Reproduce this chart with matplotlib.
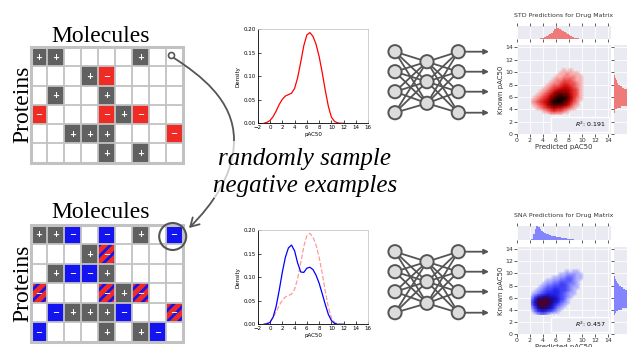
import numpy as np
import matplotlib.pyplot as plt
from matplotlib.patches import Rectangle, Circle, FancyArrowPatch
from matplotlib.path import Path
from matplotlib.colors import LinearSegmentedColormap
from matplotlib.lines import Line2D

W, H = 627, 347

# protein x molecule matrices: '+' active, '-' known inactive,
# 'n' sampled negative, 'x' sampled negative on a known inactive
top_grid = [
    "++....+..",
    "...+-....",
    ".+..+....",
    "-...-+-..",
    "..+++...-",
    "....+.+..",
]
bottom_grid = [
    "++n.n.+.n",
    "...+x....",
    ".+nn+....",
    "x...x+x..",
    ".n+++n..x",
    "n...+.+n.",
]

# pAC50 density curves
pac50 = [-1.0, -0.5, 0.0, 0.5, 1.0, 1.5, 2.0, 2.5, 3.0, 3.5, 4.0, 4.5, 5.0,
         5.5, 6.0, 6.5, 7.0, 7.5, 8.0, 8.5, 9.0, 9.5, 10.0, 10.5, 11.0, 11.5, 12.0]
density_known = [0.000, 0.002, 0.006, 0.014, 0.026, 0.040, 0.051, 0.058, 0.061,
                 0.064, 0.074, 0.097, 0.130, 0.165, 0.188, 0.193, 0.185, 0.168,
                 0.142, 0.108, 0.070, 0.036, 0.013, 0.004, 0.001, 0.000, 0.000]
density_sampled = [0.000, 0.001, 0.004, 0.015, 0.038, 0.072, 0.110, 0.142, 0.162,
                   0.168, 0.156, 0.130, 0.111, 0.110, 0.119, 0.121, 0.116, 0.104,
                   0.087, 0.065, 0.042, 0.021, 0.008, 0.002, 0.000, 0.000, 0.000]

# point density of predicted (cols, x from 2 by 0.5) vs known (rows, y from 11 down to 3)
std_cloud = [
    "000000000000000000",
    "000000000010100000",
    "000000000112111000",
    "000000001122221100",
    "000000012233321100",
    "000000122344332100",
    "000001233455432100",
    "000012345666543100",
    "000123467777543100",
    "001234678988643100",
    "012345789998642100",
    "123456899987532000",
    "012346788876421000",
    "001234565543210000",
    "000012343321000000",
    "000000111100000000",
]
sna_cloud = [
    "000000000000000000",
    "000000000001011000",
    "000000000112221100",
    "000000011223321100",
    "000001122333321000",
    "000012233443221000",
    "000123344443211000",
    "001234455443210000",
    "012345555432110000",
    "135677665432100000",
    "258999876431000000",
    "369999865321000000",
    "258998753210000000",
    "136887642100000000",
    "024554321000000000",
    "001221000000000000",
]
cloud_x0, cloud_y0, cloud_step = 2.0, 3.0, 0.5

# marginal histograms (bin width 0.25)
hist_width = 0.25
std_pred_start = 2.5
std_pred_hist = [1, 1, 2, 3, 5, 7, 10, 14, 20, 27, 35, 45, 58, 75, 95, 88, 80, 70,
                 60, 52, 44, 36, 28, 21, 15, 10, 7, 4, 3, 2, 1, 1]
std_known_start = 3.0
std_known_hist = [1, 2, 3, 5, 10, 20, 35, 50, 70, 85, 100, 95, 85, 70, 55, 45, 35,
                  28, 22, 17, 13, 10, 8, 6, 4, 3, 2, 1]
sna_pred_start = 2.25
sna_pred_hist = [10, 40, 80, 100, 90, 78, 66, 58, 50, 44, 40, 36, 32, 29, 26, 23,
                 21, 19, 17, 15, 13, 11, 9, 7, 5, 4, 2, 1]
sna_known_start = 3.0
sna_known_hist = [1, 3, 6, 12, 22, 35, 50, 65, 80, 92, 100, 96, 85, 72, 60, 48, 38,
                  30, 24, 19, 15, 12, 9, 7, 5, 3, 2, 1]

std_r2 = 0.191
sna_r2 = 0.457

GRAY = '#606060'
RED = '#ee2b24'
BLUE = '#1414f0'
LINE = '#c2c2c2'
INK = '#555555'
DARKBG = '#eaeaf2'

plt.rcParams['font.family'] = ['DejaVu Sans']
plt.rcParams['hatch.linewidth'] = 2.0

fig = plt.figure(figsize=(W / 100, H / 100), dpi=100)


def px_axes(x0, y0, x1, y1, **kw):
    # axes placed by a pixel box measured from the top-left corner
    return fig.add_axes([x0 / W, 1 - y1 / H, (x1 - x0) / W, (y1 - y0) / H], **kw)


def draw_matrix(rows, box):
    ax = px_axes(*box)
    ax.set_xlim(0, 9)
    ax.set_ylim(6, 0)
    ax.axis('off')
    for r, row in enumerate(rows):
        for c, cell in enumerate(row):
            if cell == '.':
                continue
            if cell == '+':
                ax.add_patch(Rectangle((c, r), 1, 1, fc=GRAY, ec='none'))
            elif cell == '-':
                ax.add_patch(Rectangle((c, r), 1, 1, fc=RED, ec='none'))
            elif cell == 'n':
                ax.add_patch(Rectangle((c, r), 1, 1, fc=BLUE, ec='none'))
            elif cell == 'x':
                ax.add_patch(Rectangle((c, r), 1, 1, fc=RED, ec=BLUE, lw=0, hatch='///'))
            sign = '+' if cell == '+' else '\u2212'
            ax.text(c + 0.5, r + 0.52, sign, color='white', ha='center', va='center',
                    fontsize=6, fontweight='bold')
    for i in range(10):
        ax.plot([i, i], [0, 6], color=LINE, lw=1.3, clip_on=False)
    for j in range(7):
        ax.plot([0, 9], [j, j], color=LINE, lw=1.3, clip_on=False)
    ax.add_patch(Rectangle((0, 0), 9, 6, fill=False, ec=LINE, lw=2.2, clip_on=False))


def draw_density(box, curves):
    ax = px_axes(*box)
    for ys, kw in curves:
        ax.plot(pac50, ys, **kw)
    ax.set_xlim(-2, 16)
    ax.set_ylim(0, 0.2)
    ax.set_xticks(range(-2, 17, 2))
    ax.set_yticks([0, 0.05, 0.10, 0.15, 0.20])
    ax.yaxis.set_major_formatter('{x:.2f}')
    ax.tick_params(labelsize=4, length=2, width=0.5, direction='in', pad=1.5)
    for s in ax.spines.values():
        s.set_linewidth(0.6)
    ax.spines['top'].set_color('#c8c8c8')
    ax.spines['right'].set_color('#c8c8c8')
    ax.set_xlabel('pAC50', fontsize=4, labelpad=1)
    ax.set_ylabel('Density', fontsize=4, labelpad=2)


def style_dark(ax):
    ax.set_facecolor(DARKBG)
    for s in ax.spines.values():
        s.set_visible(False)
    ax.grid(True, color='white', lw=0.6)
    ax.set_axisbelow(True)
    ax.tick_params(length=2, width=0.6, color='#444444', labelsize=4.5,
                   labelcolor='#333333', pad=0.8)


def draw_joint(main_box, top_box, right_box, title_y, cloud, cmap,
               pred_start, pred_hist, known_start, known_hist, bar_color, title, r2):
    ax = px_axes(*main_box)
    style_dark(ax)
    levels = np.array([[int(ch) for ch in row] for row in cloud][::-1], float)
    xc = cloud_x0 + cloud_step * (np.arange(levels.shape[1]) + 0.5)
    yc = cloud_y0 + cloud_step * (np.arange(levels.shape[0]) + 0.5)
    ax.pcolormesh(xc, yc, levels, cmap=cmap, vmin=0, vmax=9, shading='gouraud', zorder=2)
    ax.set_xlim(0, 14.4)
    ax.set_ylim(0, 14.4)
    ax.set_xticks(range(0, 15, 2))
    ax.set_yticks(range(0, 15, 2))
    ax.set_xlabel('Predicted pAC50', fontsize=5, color='#333333', labelpad=0.5)
    ax.set_ylabel('Known pAC50', fontsize=5, color='#333333', labelpad=0.5)
    ax.legend([Line2D([], [], ls='none')], [f'$R^2$: {r2:.3f}'], loc='lower right',
              fontsize=4.5, handlelength=2.5, borderpad=0.5, borderaxespad=0.3,
              facecolor=DARKBG, edgecolor='white', framealpha=1, fancybox=False)

    mt = px_axes(*top_box)
    style_dark(mt)
    mt.bar(pred_start + hist_width * np.arange(len(pred_hist)), pred_hist,
           width=hist_width, align='edge', color=bar_color, lw=0, zorder=2)
    mt.set_xlim(0, 14.4)
    mt.set_ylim(0, 100)
    mt.set_xticks(range(0, 15, 2))
    mt.set_yticks([])
    mt.tick_params(axis='x', top=True, labelbottom=False, length=2.5)

    mr = px_axes(*right_box)
    style_dark(mr)
    mr.barh(known_start + hist_width * np.arange(len(known_hist)), known_hist,
            height=hist_width, align='edge', color=bar_color, lw=0, zorder=2)
    mr.set_ylim(0, 14.4)
    mr.set_xlim(0, 110)
    mr.set_yticks(range(0, 15, 2))
    mr.set_xticks([])
    mr.tick_params(axis='y', labelleft=False, length=2.5)

    fig.text(563.5 / W, 1 - title_y / H, title, ha='center', va='center',
             fontsize=4.5, color='#333333')


draw_matrix(top_grid, (30.5, 47, 182.5, 162.5))
draw_matrix(bottom_grid, (30.5, 224.5, 182.5, 341.5))

draw_density((257.7, 29.3, 368.3, 123.3),
             [(density_known, dict(color='red', lw=0.9))])
draw_density((257.7, 230, 368.3, 324.3),
             [(density_known, dict(color='#ff8080', lw=0.9, ls='--', alpha=0.8)),
              (density_sampled, dict(color='blue', lw=0.9))])

# level 0 stays transparent so the background shows through
red_map = LinearSegmentedColormap.from_list(
    'std', [(0, (0.97, 0.7, 0.7, 0)), (0.11, '#f7b0b0'), (0.33, '#ee5050'),
            (0.6, '#cc0000'), (0.85, '#6a0000'), (1, '#150000')])
blue_map = LinearSegmentedColormap.from_list(
    'sna', [(0, (0.72, 0.72, 1, 0)), (0.11, '#b0b0ff'), (0.33, '#5c5cff'),
            (0.6, '#1a1ae6'), (0.85, '#1a0a80'), (1, '#4a0030')])

draw_joint((516.7, 44.9, 610.6, 134.3), (516.7, 26, 610.6, 39), (613.5, 44.9, 655, 134.3),
           16, std_cloud, red_map, std_pred_start, std_pred_hist, std_known_start,
           std_known_hist, '#ef7a7a', 'STD Predictions for Drug Matrix', std_r2)
draw_joint((516.7, 246.6, 610.6, 334.3), (516.7, 226, 610.6, 240), (613.5, 246.6, 655, 334.3),
           216, sna_cloud, blue_map, sna_pred_start, sna_pred_hist, sna_known_start,
           sna_known_hist, '#8484ff', 'SNA Predictions for Drug Matrix', sna_r2)

# schematic layer in pixel coordinates
ov = fig.add_axes([0, 0, 1, 1], zorder=10)
ov.set_xlim(0, W)
ov.set_ylim(H, 0)
ov.axis('off')

serif = 'Liberation Serif'
for base_y, mid_y in [(41.5, 104), (218.3, 283)]:
    ov.text(101, base_y, 'Molecules', ha='center', va='baseline', fontsize=17, family=serif)
    ov.text(28, mid_y, 'Proteins', ha='center', va='baseline', rotation=90,
            rotation_mode='anchor', fontsize=17, family=serif)


def draw_net(dy):
    layers = [(395, [51.7, 71.7, 91.7, 112.7]),
              (427, [61.7, 81.7, 103.3]),
              (458.3, [51.7, 71.7, 91.7, 112.7])]
    for (xa, ya), (xb, yb) in zip(layers[:-1], layers[1:]):
        for y1 in ya:
            for y2 in yb:
                ov.plot([xa, xb], [y1 + dy, y2 + dy], color=INK, lw=1.3, zorder=1)
    for x, ys in layers:
        for y in ys:
            ov.add_patch(Circle((x, y + dy), 6.6, fc='#dcdcdc', ec=INK, lw=1.4, zorder=2))
    for y in layers[-1][1]:
        ov.annotate('', xy=(489, y + dy), xytext=(465, y + dy),
                    arrowprops=dict(arrowstyle='-|>', color=INK, lw=1.3,
                                    mutation_scale=7, shrinkA=0, shrinkB=0))


draw_net(0)
draw_net(200)

# sampling arrow from the top matrix to the bottom one
ov.add_patch(Circle((171.5, 55.5), 3, fill=False, ec=INK, lw=1.2, zorder=3))
ov.add_patch(Circle((172.7, 236.5), 13.5, fill=False, ec=INK, lw=1.5, zorder=3))
verts = [(174, 58), (200, 75), (234, 100), (234, 140),
         (234, 175), (212, 205), (189, 228)]
codes = [Path.MOVETO] + [Path.CURVE4] * 6
ov.add_patch(FancyArrowPatch(path=Path(verts, codes), arrowstyle='->,head_length=0.6,head_width=0.35',
                             mutation_scale=10, color=INK, lw=1.3, zorder=3))
ov.add_patch(Rectangle((214, 141), 184, 57, fc='white', ec='none', alpha=0.7, zorder=4))
ov.text(304, 165, 'randomly sample', ha='center', va='baseline', fontsize=18,
        family=serif, style='italic', zorder=5)
ov.text(305.5, 192, 'negative examples', ha='center', va='baseline', fontsize=18,
        family=serif, style='italic', zorder=5)

fig.savefig('out.png', dpi=100)
